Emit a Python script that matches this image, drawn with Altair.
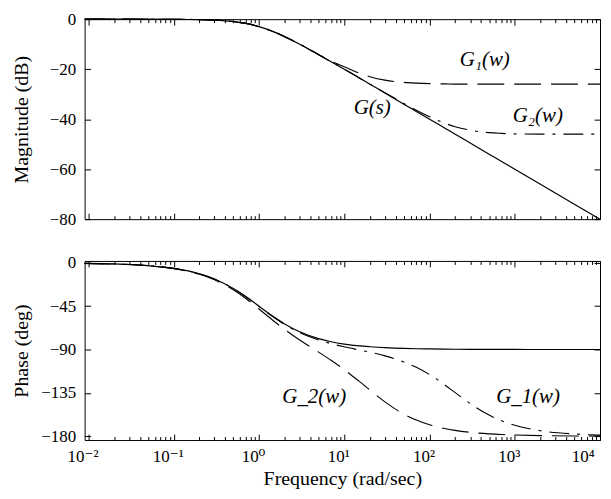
import altair as alt
import pandas as pd

# ---------------- data ----------------
freq = [0.009, 0.02, 0.05, 0.1, 0.2, 0.3, 0.5, 0.7, 1, 1.5, 2, 3, 5, 7, 10, 15, 20,
        30, 50, 70, 100, 150, 200, 300, 500, 700, 1000, 2000, 5000, 10000]

mag_G = [0, 0, -0.01, -0.04, -0.17, -0.37, -0.97, -1.7, -3.0, -5.1, -7.0, -10.0, -14.2,
         -17.0, -20.0, -23.5, -26.0, -29.5, -34.0, -36.9, -40.0, -43.5, -46.0, -49.5,
         -54.0, -56.9, -60.0, -66.0, -74.0, -80.0]
mag_G1 = [0, 0, -0.01, -0.04, -0.17, -0.37, -0.97, -1.7, -3.0, -5.1, -7.0, -10.0, -14.1,
          -16.8, -19.0, -21.6, -23.0, -24.4, -25.3, -25.6, -25.8, -25.9, -26.0, -26.0,
          -26.0, -26.0, -26.0, -26.0, -26.0, -26.0]
mag_G2 = [0, 0, -0.01, -0.04, -0.17, -0.37, -0.97, -1.7, -3.0, -5.1, -7.0, -10.0, -14.2,
          -17.0, -20.0, -23.5, -26.0, -29.4, -33.7, -36.4, -39.0, -41.6, -43.0, -44.4,
          -45.4, -45.7, -45.9, -46.0, -46.0, -46.0]

ph_G = [-0.5, -1.1, -2.9, -5.7, -11.3, -16.7, -26.6, -35.0, -45.0, -56.3, -63.4, -71.6,
        -78.7, -81.9, -84.3, -86.2, -87.1, -88.1, -88.9, -89.2, -89.4, -89.6, -89.7,
        -89.8, -89.9, -89.9, -89.9, -90.0, -90.0, -90.0]
ph_G1 = [-0.5, -1.2, -3.0, -6.0, -11.9, -17.6, -28.0, -37.0, -47.9, -60.6, -69.1, -80.1,
         -92.7, -101.2, -110.9, -123.1, -132.1, -144.4, -157.1, -163.3, -168.1, -172.0,
         -174.0, -176.0, -177.6, -178.3, -178.8, -179.4, -179.8, -179.9]
ph_G2 = [-0.5, -1.1, -2.9, -5.7, -11.4, -16.8, -26.7, -35.2, -45.3, -56.7, -64.0, -72.5,
         -80.1, -83.9, -87.2, -90.5, -92.8, -96.6, -103.0, -108.5, -116.0, -126.5,
         -134.7, -146.1, -158.1, -164.0, -168.6, -174.3, -177.7, -178.9]

mag_ticks = [0, -20, -40, -60, -80]
ph_ticks = [0, -45, -90, -135, -180]
x_major = [0.01, 0.1, 1, 10, 100, 1000, 10000]
x_minor = [m * 10 ** e for e in range(-3, 4) for m in range(2, 10)
           if 0.0095 < m * 10 ** e < 10000]

mag_text = ["G\u2081(w)", "G(s)", "G\u2082(w)"]
mag_text_x = [444, 21.3, 1865]
mag_text_y = [-16.5, -35.5, -38.6]
ph_text = ["G_2(w)", "G_1(w)"]
ph_text_x = [4.44, 1432]
ph_text_y = [-139, -139]

# ---------------- tables ----------------
n = len(freq)
mag_df = pd.DataFrame({"freq": freq * 3, "value": mag_G1 + mag_G2 + mag_G,
                       "series": ["G1"] * n + ["G2"] * n + ["G"] * n})
ph_df = pd.DataFrame({"freq": freq * 3, "value": ph_G1 + ph_G2 + ph_G,
                      "series": ["G1"] * n + ["G2"] * n + ["G"] * n})
mag_lab = pd.DataFrame({"freq": mag_text_x, "value": mag_text_y, "text": mag_text})
ph_lab = pd.DataFrame({"freq": ph_text_x, "value": ph_text_y, "text": ph_text})

FONT = "'Liberation Serif', 'Times New Roman', Times, 'DejaVu Serif', serif"
W = 518
H1 = 201
H2 = 180
TITLE_X = -63

xscale = alt.Scale(type="log", domain=[0.009, 10000], nice=False, zero=False)

label_expr = ("datum.value < 0.05 ? '10\u207b\u00b2' : datum.value < 0.5 ? '10\u207b\u00b9' : "
              "datum.value < 5 ? '10\u2070' : datum.value < 50 ? '10\u00b9' : "
              "datum.value < 500 ? '10\u00b2' : datum.value < 5000 ? '10\u00b3' : '10\u2074'")

dash_scale = alt.Scale(domain=["G1", "G2", "G"], range=[[27, 10], [20, 8, 3, 8], [1, 0]])


def panel(df, lab_df, ydomain, yvals, H, ytitle, bottom):
    yscale = alt.Scale(domain=ydomain, nice=False, zero=False)
    yaxis = alt.Axis(orient="left", values=yvals, ticks=False, tickSize=0, domain=False,
                     grid=False, title=ytitle, labelPadding=9, titleX=TITLE_X,
                     titleY=H / 2, titleAngle=-90, titleAlign="center",
                     titleBaseline="middle")
    if bottom:
        xaxis = alt.Axis(orient="bottom", values=x_major, labelExpr=label_expr, ticks=False,
                         tickSize=0, domain=False, grid=False,
                         title="Frequency (rad/sec)", labelPadding=9, titlePadding=4,
                         labelOffset=-6, labelFlush=1)
    else:
        xaxis = None

    dashed = alt.Chart(df).transform_filter("datum.series != 'G'").mark_line(
        color="black", strokeWidth=1.1, interpolate="monotone"
    ).encode(
        x=alt.X("freq:Q", scale=xscale, axis=xaxis),
        y=alt.Y("value:Q", scale=yscale, axis=yaxis),
        strokeDash=alt.StrokeDash("series:N", scale=dash_scale, legend=None),
        detail="series:N",
    )
    solid = alt.Chart(df).transform_filter("datum.series == 'G'").mark_line(
        color="black", strokeWidth=1.2, interpolate="monotone"
    ).encode(
        x=alt.X("freq:Q", scale=xscale, axis=None),
        y=alt.Y("value:Q", scale=yscale, axis=None),
    )
    text = alt.Chart(lab_df).mark_text(
        font=FONT, fontSize=21, fontStyle="italic", color="black",
        align="center", baseline="middle"
    ).encode(
        x=alt.X("freq:Q", scale=xscale, axis=None),
        y=alt.Y("value:Q", scale=yscale, axis=None),
        text="text:N",
    )

    def ticks(x_orient, xvals, xsize, y_orient=None, ysize=6):
        yax = None
        if y_orient is not None:
            yax = alt.Axis(orient=y_orient, offset=-W, values=yvals, tickSize=ysize,
                           labels=False, domain=False, grid=False, title=None,
                           tickColor="black", tickWidth=1, minExtent=0)
        return alt.Chart(df).mark_line(strokeOpacity=0).encode(
            x=alt.X("freq:Q", scale=xscale,
                    axis=alt.Axis(orient=x_orient, offset=-H, values=xvals, tickSize=xsize,
                                  labels=False, domain=False, grid=False, title=None,
                                  tickColor="black", tickWidth=1, minExtent=0)),
            y=alt.Y("value:Q", scale=yscale, axis=yax),
            detail="series:N",
        )

    layers = [
        dashed, solid, text,
        ticks("top", x_major, 6, "right", 6),
        ticks("bottom", x_major, 6, "left", 6),
        ticks("top", x_minor, 3.5),
        ticks("bottom", x_minor, 3.5),
    ]
    return alt.layer(*layers).resolve_axis(x="independent", y="independent").properties(
        width=W, height=H)


top = panel(mag_df, mag_lab, [-80, 0], mag_ticks, H1, "Magnitude (dB)", False)
bot = panel(ph_df, ph_lab, [-184, 2], ph_ticks, H2, "Phase (deg)", True)

chart = alt.vconcat(top, bot, spacing=42, bounds="flush").properties(
    padding={"left": 3, "top": 0, "right": 0, "bottom": 0}
).configure_view(
    stroke="black", strokeWidth=1
).configure_axis(
    labelFont=FONT, labelFontSize=17, labelColor="black",
    titleFont=FONT, titleFontSize=20, titleFontWeight="normal", titleColor="black",
)

chart.save("out.html", embed_options={"renderer": "svg", "actions": False})
